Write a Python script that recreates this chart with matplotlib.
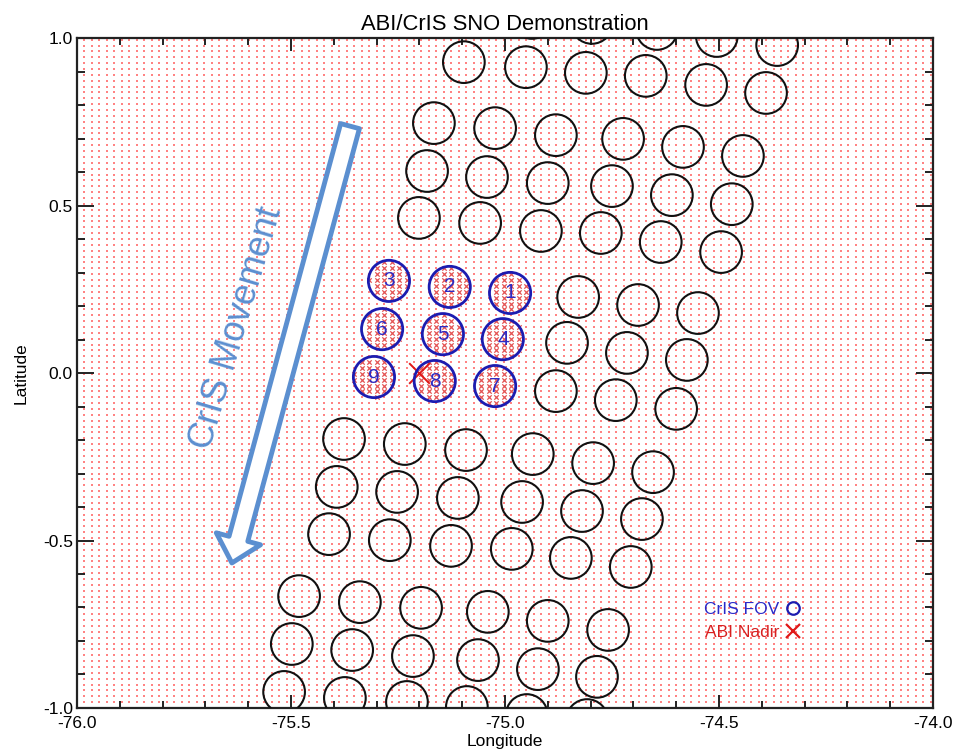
import matplotlib
matplotlib.use('Agg')
import matplotlib.pyplot as plt
import numpy as np
from matplotlib.ticker import MultipleLocator, FormatStrFormatter
from matplotlib.lines import Line2D

plt.rcParams['font.family'] = ['Liberation Sans', 'DejaVu Sans']
plt.rcParams['axes.unicode_minus'] = False

# CrIS FOV centres (lon, lat), black circles
fov_lon = [-74.937, -74.797, -74.645, -74.505, -74.364,
           -75.096, -74.951, -74.811, -74.671, -74.530, -74.390,
           -75.166, -75.023, -74.881, -74.724, -74.584, -74.444,
           -75.182, -75.042, -74.900, -74.750, -74.610, -74.470,
           -75.201, -75.058, -74.916, -74.776, -74.636, -74.495,
           -74.829, -74.689, -74.549,
           -74.855, -74.715, -74.575,
           -74.881, -74.741, -74.600,
           -75.376, -75.234, -75.091, -74.935, -74.794, -74.654,
           -75.393, -75.252, -75.110, -74.960, -74.820, -74.680,
           -75.411, -75.269, -75.126, -74.984, -74.846, -74.706,
           -75.481, -75.339, -75.196, -75.040, -74.900, -74.759,
           -75.498, -75.357, -75.215, -75.063, -74.923, -74.785,
           -75.516, -75.374, -75.229, -75.089, -74.949, -74.808]
fov_lat = [1.060, 1.045, 1.027, 1.006, 0.979,
           0.928, 0.913, 0.896, 0.887, 0.860, 0.836,
           0.746, 0.731, 0.710, 0.699, 0.675, 0.648,
           0.603, 0.585, 0.567, 0.558, 0.531, 0.504,
           0.463, 0.448, 0.424, 0.418, 0.391, 0.361,
           0.227, 0.203, 0.179,
           0.090, 0.060, 0.039,
           -0.054, -0.081, -0.107,
           -0.197, -0.212, -0.230, -0.242, -0.269, -0.296,
           -0.340, -0.355, -0.373, -0.385, -0.412, -0.436,
           -0.481, -0.499, -0.516, -0.525, -0.552, -0.579,
           -0.666, -0.684, -0.701, -0.713, -0.740, -0.767,
           -0.809, -0.827, -0.845, -0.857, -0.884, -0.907,
           -0.952, -0.970, -0.982, -0.997, -1.021, -1.036]

# SNO FOVs (blue, numbered)
sno_id = ['1', '2', '3', '4', '5', '6', '7', '8', '9']
sno_lon = [-74.988, -75.129, -75.271, -75.005, -75.145, -75.287, -75.023, -75.164, -75.306]
sno_lat = [0.239, 0.257, 0.275, 0.101, 0.116, 0.131, -0.039, -0.024, -0.012]

# ABI nadir point
nadir_lon = -75.2
nadir_lat = 0.0

# ABI pixel grid spacing (deg)
abi_step = 0.0175

# movement arrow (start, tip)
arrow_start = (-75.362, 0.737)
arrow_tip = (-75.638, -0.567)

fig = plt.figure(figsize=(9.62, 7.56), dpi=100)
ax = fig.add_axes([0.080, 0.0635, 0.8898, 0.8862])
ax.set_xlim(-76.0, -74.0)
ax.set_ylim(-1.0, 1.0)

# ABI pixel grid
glon, glat = np.meshgrid(np.arange(-76.0, -74.0 + 1e-6, abi_step),
                         np.arange(-1.0, 1.0 + 1e-6, abi_step))
glon = glon.ravel()
glat = glat.ravel()

# pixels inside a SNO FOV (screen radius ~21 px)
xpix = 856 / 2.0
ypix = 670 / 2.0
inside = np.zeros(glon.size, dtype=bool)
for lo, la in zip(sno_lon, sno_lat):
    d2 = ((glon - lo) * xpix) ** 2 + ((glat - la) * ypix) ** 2
    inside |= d2 < 20.5 ** 2

ax.scatter(glon[~inside], glat[~inside], s=2.2, marker='s', color='#ff3030',
           alpha=0.6, linewidths=0, zorder=1)
ax.scatter(glon[inside], glat[inside], s=10, marker='x', color='#e03535',
           alpha=0.85, linewidths=0.9, zorder=1)

# CrIS FOVs
ax.scatter(fov_lon, fov_lat, s=900, facecolors='none', edgecolors='#111111',
           linewidths=1.5, zorder=3)
ax.scatter(sno_lon, sno_lat, s=880, facecolors='none', edgecolors='#1c1cb0',
           linewidths=2.0, zorder=3)
for t, lo, la in zip(sno_id, sno_lon, sno_lat):
    ax.text(lo, la, t, color='#2c2cc4', fontsize=15, ha='center', va='center', zorder=5)

ax.scatter([nadir_lon], [nadir_lat], s=220, marker='x', color='#e01818',
           linewidths=1.4, zorder=2)

# movement arrow
ax.annotate('', xy=arrow_tip, xytext=arrow_start,
            arrowprops=dict(arrowstyle='simple,head_length=18,head_width=33,tail_width=14',
                            mutation_scale=1, fc='white', ec='#5b8fd0', lw=3.5,
                            shrinkA=0, shrinkB=0),
            zorder=2)
ax.text(-75.628, 0.134, 'CrIS Movement', color='#5b8fd0', fontsize=26,
        rotation=73.5, rotation_mode='anchor', ha='center', va='center', zorder=2)

# legend
handles = [Line2D([], [], ls='none', marker='o', ms=9, mfc='none', mec='#1c1cb0', mew=1.6),
           Line2D([], [], ls='none', marker='x', ms=10, color='#e01818', mew=1.6)]
leg = ax.legend(handles, ['CrIS FOV', 'ABI Nadir'], loc='center right',
                bbox_to_anchor=(0.845, 0.13), frameon=False, markerfirst=False,
                handlelength=0.8, handletextpad=0.4, labelspacing=0.45,
                borderaxespad=0, borderpad=0, fontsize=12.5,
                labelcolor=['#2a2ac8', '#d82020'])

# axes styling
ax.set_title('ABI/CrIS SNO Demonstration', fontsize=15.8, pad=6)
ax.set_xlabel('Longitude', fontsize=12.5, labelpad=2)
ax.set_ylabel('Latitude', fontsize=12.5, labelpad=10)
ax.xaxis.set_major_locator(MultipleLocator(0.5))
ax.xaxis.set_minor_locator(MultipleLocator(0.1))
ax.yaxis.set_major_locator(MultipleLocator(0.5))
ax.yaxis.set_minor_locator(MultipleLocator(0.1))
ax.xaxis.set_major_formatter(FormatStrFormatter('%.1f'))
ax.yaxis.set_major_formatter(FormatStrFormatter('%.1f'))
ax.tick_params(axis='both', which='both', direction='in', top=True, right=True,
               labelsize=12.5, width=1.4, color='#222222')
ax.tick_params(axis='x', which='major', length=9.5, pad=6)
ax.tick_params(axis='x', which='minor', length=5)
ax.tick_params(axis='y', which='major', length=12, pad=3)
ax.tick_params(axis='y', which='minor', length=6)
for sp in ax.spines.values():
    sp.set_linewidth(1.6)
    sp.set_color('#222222')

fig.savefig('out.png', dpi=100)
